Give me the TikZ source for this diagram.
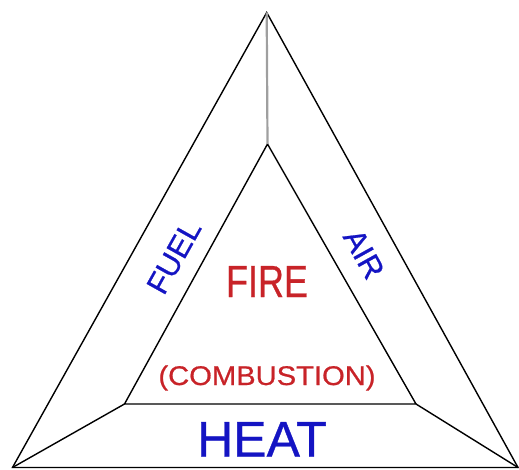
\documentclass[tikz,border=0pt]{standalone}
\usepackage{fontspec}
\setmainfont{Liberation Sans}[BoldFont=Liberation Sans, BoldFeatures={FakeBold=0.7}]
\definecolor{firered}{RGB}{200,35,40}
\definecolor{sideblue}{RGB}{20,20,195}

\begin{document}
\begin{tikzpicture}[x=1pt, y=-1pt]
    \useasboundingbox (0,0) rectangle (519,470);
    \tikzset{side/.style={text=sideblue, inner sep=0pt},
             core/.style={text=firered, inner sep=0pt}}

    % outer and inner corners
    \coordinate (otop) at (266.7,12.5);
    \coordinate (oleft) at (12.5,467.5);
    \coordinate (oright) at (518,467.5);
    \coordinate (itop) at (267.5,144);
    \coordinate (ileft) at (124.5,404);
    \coordinate (iright) at (416,404);

    \draw[line width=1.4pt] (otop) -- (oleft) -- (oright) -- cycle;
    \draw[line width=1.8pt] (oleft) -- (oright);
    \draw[line width=1.4pt] (itop) -- (ileft) -- (iright) -- cycle;
    \draw[line width=1.4pt] (oleft) -- (ileft);
    \draw[line width=1.4pt] (oright) -- (iright);
    \draw[line width=2.2pt, gray!75] (otop) -- (itop);

    \node[side, rotate=60.8, font=\fontsize{30.7}{30.7}\selectfont] (fuel) at (174,257) {\bfseries FUEL};
    \node[side, rotate=-61, font=\fontsize{30.7}{30.7}\selectfont] (air) at (364,254) {\bfseries AIR};
    \node[core, anchor=base, xscale=0.8, font=\fontsize{45}{45}\selectfont] (fire) at (267,297) {\bfseries FIRE};
    \node[core, anchor=base, xscale=1.08, font=\fontsize{27}{27}\selectfont] (comb) at (267,385) {\bfseries (COMBUSTION)};
    \node[side, anchor=base, font=\fontsize{50}{50}\selectfont] (heat) at (262,456.5) {\bfseries HEAT};
\end{tikzpicture}
\end{document}
